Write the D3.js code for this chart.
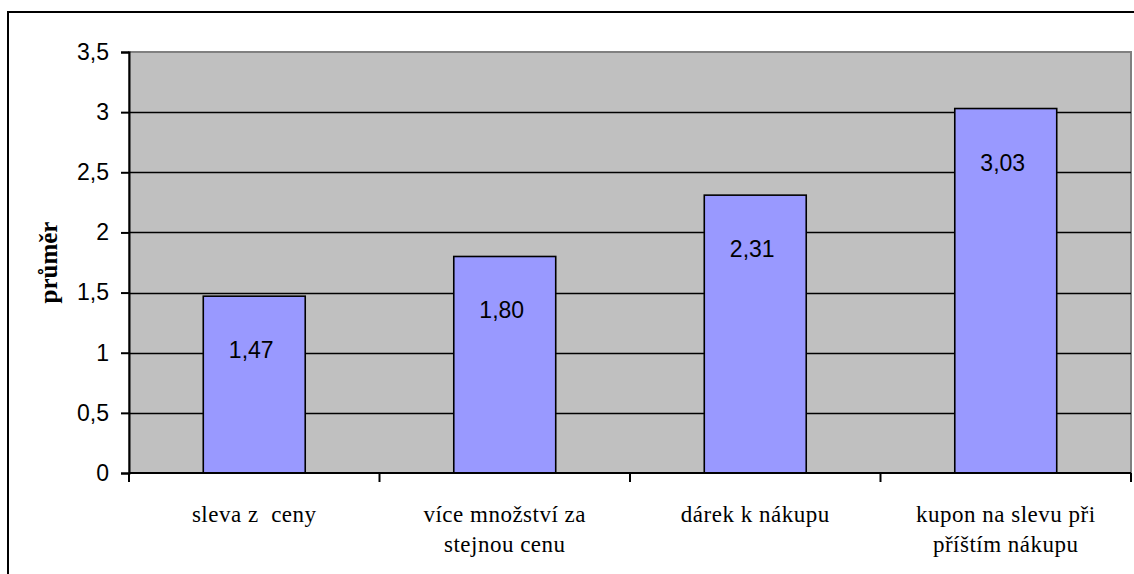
<!DOCTYPE html>
<html>
<head>
<meta charset="utf-8">
<script src="https://cdn.jsdelivr.net/npm/d3@7/dist/d3.min.js"></script>
<style>
  html, body { margin: 0; padding: 0; background: #ffffff; }
  svg { display: block; }
</style>
</head>
<body>
<svg id="chart" width="1134" height="574"></svg>
<script>
// Average rating per type of promotion
const categories = [
  ["sleva z  ceny"],
  ["více množství za", "stejnou cenu"],
  ["dárek k nákupu"],
  ["kupon na slevu při", "příštím nákupu"]
];
const values = [1.47, 1.80, 2.31, 3.03];
const valueLabels = ["1,47", "1,80", "2,31", "3,03"];
const yTicks = [0, 0.5, 1, 1.5, 2, 2.5, 3, 3.5];
const yTickLabels = ["0", "0,5", "1", "1,5", "2", "2,5", "3", "3,5"];
const yTitle = "průměr";

const svg = d3.select("#chart");
const W = 1134, H = 574;
const plot = { left: 129, right: 1131, top: 52, bottom: 473 };

// outer chart frame (runs off the right and bottom edges)
svg.append("rect")
  .attr("x", 8).attr("y", 12)
  .attr("width", W + 20).attr("height", H + 20)
  .attr("fill", "#ffffff").attr("stroke", "#000000").attr("stroke-width", 2);

const idx = d3.range(values.length);
const xCat = d3.scaleBand().domain(idx).range([plot.left, plot.right]).padding(0);
const xBar = d3.scaleBand().domain(idx).range([plot.left, plot.right])
  .paddingInner(0.593).paddingOuter(0.2965);
const y = d3.scaleLinear().domain([0, 3.5]).range([plot.bottom, plot.top]);

// plot area
svg.append("rect")
  .attr("x", plot.left).attr("y", plot.top)
  .attr("width", plot.right - plot.left).attr("height", plot.bottom - plot.top)
  .attr("fill", "#C0C0C0").attr("stroke", "#808080").attr("stroke-width", 2);

// horizontal gridlines
svg.append("g").selectAll("line")
  .data(yTicks.filter(t => t > 0 && t < 3.5))
  .join("line")
  .attr("x1", plot.left).attr("x2", plot.right)
  .attr("y1", d => Math.round(y(d)) + 0.5).attr("y2", d => Math.round(y(d)) + 0.5)
  .attr("stroke", "#000000").attr("stroke-width", 1.3);

// bars
svg.append("g").selectAll("rect")
  .data(idx)
  .join("rect")
  .attr("x", i => xBar(i))
  .attr("y", i => y(values[i]))
  .attr("width", xBar.bandwidth())
  .attr("height", i => y(0) - y(values[i]))
  .attr("fill", "#9999FF")
  .attr("stroke", "#000000").attr("stroke-width", 1.6);

// value labels inside the bars
svg.append("g").selectAll("text")
  .data(idx)
  .join("text")
  .attr("x", i => xBar(i) + xBar.bandwidth() / 2 - 3)
  .attr("y", i => y(values[i]) + 62)
  .attr("text-anchor", "middle")
  .attr("font-family", "Arial, 'Liberation Sans', sans-serif")
  .attr("font-size", 23)
  .attr("fill", "#000000")
  .text(i => valueLabels[i]);

// y axis
const yAxis = d3.axisLeft(y)
  .tickValues(yTicks)
  .tickFormat((d, i) => yTickLabels[i])
  .tickSizeOuter(0)
  .tickSize(8)
  .tickPadding(12);
const gy = svg.append("g").attr("transform", `translate(${plot.left},0)`).call(yAxis);
gy.select(".domain").attr("stroke", "#000000").attr("stroke-width", 2);
gy.selectAll(".tick line").attr("stroke", "#000000").attr("stroke-width", 2);
gy.selectAll(".tick text")
  .attr("font-family", "Arial, 'Liberation Sans', sans-serif")
  .attr("font-size", 23).attr("fill", "#000000");

// x axis line and category separators
svg.append("line")
  .attr("x1", plot.left).attr("x2", plot.right)
  .attr("y1", plot.bottom).attr("y2", plot.bottom)
  .attr("stroke", "#000000").attr("stroke-width", 2);
const sepX = idx.map(i => xCat(i)).concat([plot.right]);
svg.append("g").selectAll("line")
  .data(sepX)
  .join("line")
  .attr("x1", d => d).attr("x2", d => d)
  .attr("y1", plot.bottom).attr("y2", plot.bottom + 9)
  .attr("stroke", "#000000").attr("stroke-width", 2);

// category labels
const cat = svg.append("g").selectAll("text")
  .data(idx)
  .join("text")
  .attr("text-anchor", "middle")
  .attr("font-family", "'Times New Roman', 'Liberation Serif', serif")
  .attr("font-size", 23)
  .attr("letter-spacing", "0.5px")
  .attr("fill", "#000000");
cat.each(function(i) {
  const t = d3.select(this);
  categories[i].forEach((line, k) => {
    t.append("tspan")
      .attr("x", xCat(i) + xCat.bandwidth() / 2)
      .attr("y", 522 + k * 30)
      .style("white-space", "pre")
      .text(line);
  });
});

// y axis title
svg.append("text")
  .attr("transform", `translate(57,${(plot.top + plot.bottom) / 2}) rotate(-90)`)
  .attr("text-anchor", "middle")
  .attr("font-family", "'Times New Roman', 'Liberation Serif', serif")
  .attr("font-weight", "bold")
  .attr("font-size", 25)
  .attr("fill", "#000000")
  .text(yTitle);
</script>
</body>
</html>
